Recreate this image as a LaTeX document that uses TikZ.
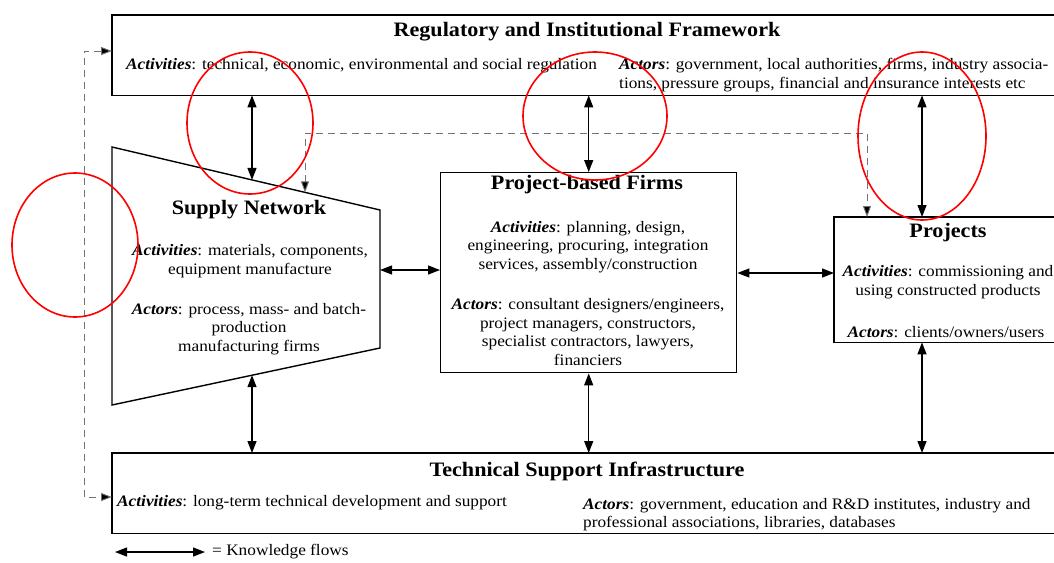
\documentclass[tikz,border=0pt]{standalone}
\usepackage{fontspec}
\setmainfont{Liberation Serif}[FakeStretch=1.08]
\usetikzlibrary{arrows.meta}
\newcommand{\lbl}[1]{\textbf{\textit{#1}}}
\tikzset{
  boxline/.style={line width=1.4pt, draw=black},
  kflow/.style={line width=1.3pt, {Triangle[length=12pt,width=9pt]}-{Triangle[length=12pt,width=9pt]}},
  dflowb/.style={line width=0.9pt, draw=black!55, dash pattern=on 7pt off 5pt, {Triangle[length=11pt,width=8pt,fill=black]}-{Triangle[length=11pt,width=8pt,fill=black]}},
  ttl/.style={font=\fontsize{20.5}{24}\selectfont\bfseries, inner sep=0pt},
  body/.style={font=\fontsize{16}{18.6}\selectfont, inner sep=0pt, align=center},
  bodyl/.style={font=\fontsize{16}{18.6}\selectfont, inner sep=0pt, align=left},
  redring/.style={draw=red, line width=1.6pt},
  area/.style={inner sep=0pt, draw=none, anchor=north west}
}
\begin{document}
\begin{tikzpicture}[x=1pt,y=-1pt]
\useasboundingbox (0,0) rectangle (1054,562);
\fill[white] (0,0) rectangle (1054,562);

% ---- boxes ----
\node[area, minimum width=942pt, minimum height=80pt] (reg) at (112,15) {};
\draw[boxline] (reg.north east) -- (reg.north west) -- (reg.south west) -- (reg.south east);
\node[area, draw, boxline, minimum width=296pt, minimum height=200pt] (firms) at (440,172) {};
\node[area, minimum width=220pt, minimum height=125pt] (proj) at (834,217) {};
\draw[boxline] (proj.north east) -- (proj.north west) -- (proj.south west) -- (proj.south east);
\node[area, minimum width=942pt, minimum height=80pt] (tech) at (112,453) {};
\draw[boxline] (tech.north east) -- (tech.north west) -- (tech.south west) -- (tech.south east);

% supply network trapezoid
\coordinate (sTL) at (112,147);
\coordinate (sTR) at (380,210);
\coordinate (sBR) at (380,348);
\coordinate (sBL) at (112,405);
\draw[boxline, line join=miter] (sTL) -- (sTR) -- (sBR) -- (sBL) -- cycle;
\coordinate (sR) at (380,270);
\coordinate (sTa) at (252,179.9);
\coordinate (sTb) at (305,192.4);
\coordinate (sBa) at (252,375.2);

% ---- texts ----
\node[ttl] (regT) at (587,32) {Regulatory and Institutional Framework};
\node[bodyl, anchor=west] (regA) at (126,66) {\lbl{Activities}: technical, economic, environmental and social regulation};
\node[bodyl, anchor=north west] (regB) at (619,58) {\lbl{Actors}: government, local authorities, firms, industry associa-\\tions, pressure groups, financial and insurance interests etc};

\node[ttl] (supT) at (249,210) {Supply Network};
\node[body] (supA) at (250,261) {\lbl{Activities}: materials, components,\\equipment manufacture};
\node[body] (supB) at (249,329) {\lbl{Actors}: process, mass- and batch-\\production\\manufacturing firms};

\node[ttl] (firT) at (587,185) {Project-based Firms};
\node[body] (firA) at (588,247) {\lbl{Activities}: planning, design,\\engineering, procuring, integration\\services, assembly/construction};
\node[body] (firB) at (588,332) {\lbl{Actors}: consultant designers/engineers,\\project managers, constructors,\\specialist contractors, lawyers,\\financiers};

\node[ttl] (proT) at (948,233) {Projects};
\node[body] (proA) at (948,282) {\lbl{Activities}: commissioning and\\using constructed products};
\node[body] (proB) at (946,332) {\lbl{Actors}: clients/owners/users};

\node[ttl] (tecT) at (587,471) {Technical Support Infrastructure};
\node[bodyl, anchor=west] (tecA) at (117,503) {\lbl{Activities}: long-term technical development and support};
\node[bodyl, anchor=north west] (tecB) at (583,498) {\lbl{Actors}: government, education and R\&D institutes, industry and\\professional associations, libraries, databases};

% ---- knowledge flows ----
\draw[kflow] (reg.south west -| sTa) -- (sTa);
\draw[kflow] (reg.south west -| firms.north) -- (firms.north);
\draw[kflow] (reg.south west -| 922,0) -- (proj.north west -| 922,0);
\draw[kflow] (sR) -- (firms.west |- sR);
\draw[kflow] (firms.east |- 0,273) -- (proj.west |- 0,273);
\draw[kflow] (sBa) -- (tech.north west -| sBa);
\draw[kflow] (firms.south) -- (tech.north west -| firms.south);
\draw[kflow] (proj.south west -| 922,0) -- (tech.north west -| 922,0);

% dashed links
\coordinate (dA) at (305,133);
\coordinate (dB) at (867,133);
\draw[dflowb] (sTb) -- (dA) -- (dB) -- (proj.north west -| dB);
\coordinate (lA) at (84,51);
\coordinate (lB) at (84,497);
\draw[dflowb] (reg.west |- lA) -- (lA) -- (lB) -- (tech.west |- lB);

% legend
\coordinate (kL) at (115,552);
\coordinate (kR) at (205,552);
\draw[kflow] (kL) -- (kR);
\node[bodyl, anchor=west] (kT) at (212,552) {= Knowledge flows};

% red marks
\draw[redring] (250,123) ellipse [x radius=63pt, y radius=71pt];
\draw[redring] (595,116) ellipse [x radius=72pt, y radius=64pt];
\draw[redring] (922,136) ellipse [x radius=64pt, y radius=84pt];
\draw[redring] (75,245) ellipse [x radius=63pt, y radius=72pt];
\end{tikzpicture}
\end{document}
